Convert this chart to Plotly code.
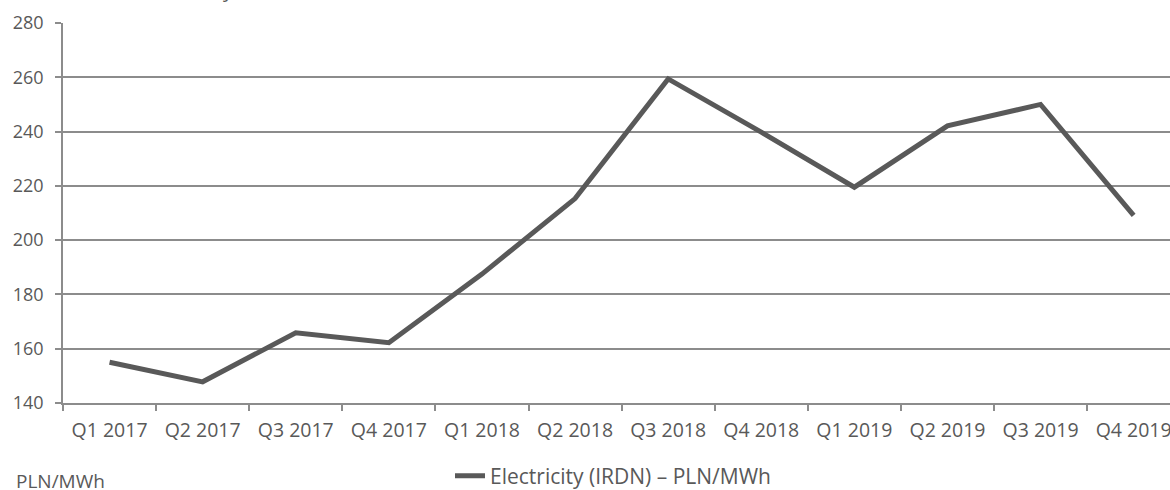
import plotly.graph_objects as go

quarters = ["Q1 2017", "Q2 2017", "Q3 2017", "Q4 2017",
            "Q1 2018", "Q2 2018", "Q3 2018", "Q4 2018",
            "Q1 2019", "Q2 2019", "Q3 2019", "Q4 2019"]
electricity = [155.0, 147.8, 165.9, 162.2,
               187.5, 215.3, 259.4, 239.8,
               219.5, 242.1, 250.0, 209.1]
series_name = "Electricity (IRDN) \u2013 PLN/MWh"
unit_label = "PLN/MWh"
title_text = "Electricity"
y_ticks = [140, 160, 180, 200, 220, 240, 260, 280]

FONT = "Open Sans"
TXT = "#595959"
GRID = "#8c8c8c"

fig = go.Figure()
fig.add_trace(go.Scatter(
    x=quarters, y=electricity, mode="lines", name=series_name,
    line=dict(color="#595959", width=5),
))

W, H = 1170, 490
ml, mt = 63, 23
plot_bottom = 403
mb = H - plot_bottom
plot_w = W - ml
plot_h = plot_bottom - mt
step = 93.1
x_hi = -0.5 + plot_w / step


def px_x(px):
    return (px - ml) / plot_w


def px_y(py):
    return (plot_bottom - py) / plot_h


fig.update_layout(
    width=W, height=H,
    margin=dict(l=ml, r=0, t=mt, b=mb, autoexpand=False),
    paper_bgcolor="white", plot_bgcolor="white",
    font=dict(family=FONT, size=18, color=TXT),
    showlegend=True,
    legend=dict(orientation="h", x=px_x(450), xanchor="left",
                y=px_y(476), yanchor="middle", bgcolor="rgba(0,0,0,0)",
                font=dict(size=21, color=TXT)),
    xaxis=dict(type="category", categoryorder="array", categoryarray=quarters,
               range=[-0.5, x_hi], tickson="boundaries", ticks="outside",
               ticklen=6, tickcolor=GRID, tickwidth=1.5,
               showline=True, linecolor=GRID, linewidth=1.5,
               showgrid=False, tickfont=dict(size=19.5, color=TXT),
               ticklabelstandoff=9, fixedrange=True),
    yaxis=dict(range=[140, 280], tickvals=y_ticks, ticks="outside",
               ticklen=6, tickcolor=GRID, tickwidth=1.5,
               showline=True, linecolor=GRID, linewidth=1.5,
               showgrid=True, gridcolor=GRID, gridwidth=1.5,
               zeroline=False, tickfont=dict(size=18, color=TXT),
               ticklabelstandoff=8, fixedrange=True),
    annotations=[
        dict(text=unit_label, xref="paper", yref="paper",
             x=px_x(14), xanchor="left",
             y=px_y(481), yanchor="middle",
             showarrow=False, font=dict(size=19, color=TXT)),
        dict(text=title_text, xref="paper", yref="paper",
             x=px_x(236), xanchor="right",
             y=px_y(5), yanchor="bottom",
             showarrow=False, font=dict(size=20, color=TXT)),
    ],
)

fig.write_html("out.html", config={"displayModeBar": False},
               post_script="document.body.style.margin='0px';")
